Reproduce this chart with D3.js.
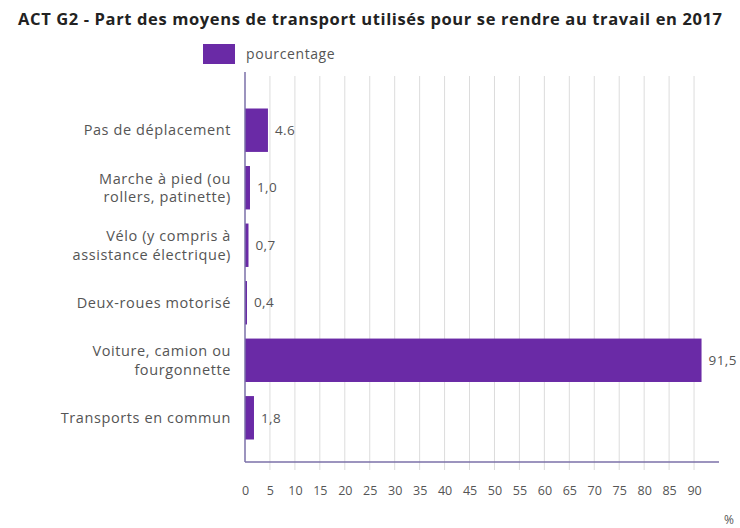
<!DOCTYPE html>
<html lang="fr">
<head>
<meta charset="utf-8">
<script src="https://cdn.jsdelivr.net/npm/d3@7"></script>
<style>
  html, body { margin: 0; padding: 0; background: #fff; }
  svg { display: block; font-family: "Open Sans", "Noto Sans", sans-serif; }
</style>
</head>
<body>
<svg id="chart" width="740" height="528"></svg>
<script>
// Mode de transport principal pour aller travailler (2017), en %
const categories = [
  ["Pas de déplacement"],
  ["Marche à pied (ou", "rollers, patinette)"],
  ["Vélo (y compris à", "assistance électrique)"],
  ["Deux-roues motorisé"],
  ["Voiture, camion ou", "fourgonnette"],
  ["Transports en commun"]
];
const values = [4.6, 1.0, 0.7, 0.4, 91.5, 1.8];
const valueLabels = ["4.6", "1,0", "0,7", "0,4", "91,5", "1,8"];
const tickValues = d3.range(0, 91, 5);
const seriesName = "pourcentage";
const titleText = "ACT G2 - Part des moyens de transport utilisés pour se rendre au travail en 2017";
const unitLabel = "%";

const svg = d3.select("#chart");
const barColor = "#6a2aa6";
const axisColor = "#7b70a8";
const textColor = "#555";

const plotLeft = 245, plotRight = 719, plotTop = 72, plotBottom = 462;

const x = d3.scaleLinear().domain([0, 95]).range([plotLeft, plotRight]);
const y = d3.scaleBand()
  .domain(d3.range(categories.length))
  .range([108.5, 439.5])
  .paddingInner(0.245)
  .paddingOuter(0);

// Title
svg.append("text")
  .attr("x", 18).attr("y", 25)
  .attr("font-size", 16.5).attr("font-weight", 700)
  .attr("fill", "#222")
  .attr("textLength", 704)
  .attr("lengthAdjust", "spacing")
  .text(titleText);

// Legend
svg.append("rect")
  .attr("x", 203).attr("y", 44).attr("width", 32).attr("height", 20)
  .attr("fill", barColor);
svg.append("text")
  .attr("x", 246).attr("y", 59)
  .attr("font-size", 14).attr("letter-spacing", 0.6)
  .attr("fill", textColor)
  .text(seriesName);

// Vertical grid lines with tick extension below the axis
svg.append("g")
  .selectAll("line")
  .data(tickValues.filter(d => d > 0))
  .join("line")
  .attr("x1", d => x(d)).attr("x2", d => x(d))
  .attr("y1", 76).attr("y2", plotBottom + 8)
  .attr("stroke", "#dcdcdc").attr("stroke-width", 1);

// X axis labels
const xAxis = d3.axisBottom(x).tickValues(tickValues).tickSize(0).tickPadding(0);
const gx = svg.append("g")
  .attr("transform", `translate(0,${plotBottom})`)
  .call(xAxis);
gx.select(".domain").remove();
gx.selectAll("text")
  .attr("y", 33)
  .attr("dy", 0)
  .attr("font-size", 12.5)
  .attr("font-family", "Open Sans, sans-serif")
  .attr("fill", textColor);

// Bars
svg.append("g")
  .selectAll("rect")
  .data(values)
  .join("rect")
  .attr("x", x(0))
  .attr("y", (d, i) => y(i))
  .attr("width", d => x(d) - x(0))
  .attr("height", y.bandwidth())
  .attr("fill", barColor);

// Value labels
svg.append("g")
  .selectAll("text")
  .data(values)
  .join("text")
  .attr("x", d => x(d) + 7)
  .attr("y", (d, i) => y(i) + y.bandwidth() / 2)
  .attr("dy", "0.35em")
  .attr("font-size", 13.5)
  .attr("letter-spacing", 0.4)
  .attr("fill", textColor)
  .text((d, i) => valueLabels[i]);

// Category labels (right aligned, possibly on two lines)
const lineH = 18.5;
const catG = svg.append("g")
  .selectAll("text")
  .data(categories)
  .join("text")
  .attr("text-anchor", "end")
  .attr("font-size", 14.5)
  .attr("letter-spacing", 0.6)
  .attr("fill", textColor);
catG.each(function(lines, i) {
  const cy = y(i) + y.bandwidth() / 2;
  const start = cy - (lines.length - 1) * lineH / 2;
  d3.select(this).selectAll("tspan")
    .data(lines)
    .join("tspan")
    .attr("x", 231)
    .attr("y", (d, k) => start + k * lineH)
    .attr("dy", "0.35em")
    .text(d => d);
});

// Axis lines
svg.append("line")
  .attr("x1", plotLeft).attr("x2", plotLeft)
  .attr("y1", plotTop).attr("y2", plotBottom)
  .attr("stroke", axisColor).attr("stroke-width", 1.5);
svg.append("line")
  .attr("x1", plotLeft).attr("x2", plotRight)
  .attr("y1", plotBottom).attr("y2", plotBottom)
  .attr("stroke", axisColor).attr("stroke-width", 1.5);

// Unit label
svg.append("text")
  .attr("x", 734).attr("y", 524)
  .attr("text-anchor", "end")
  .attr("font-size", 12).attr("fill", textColor)
  .text(unitLabel);
</script>
</body>
</html>
